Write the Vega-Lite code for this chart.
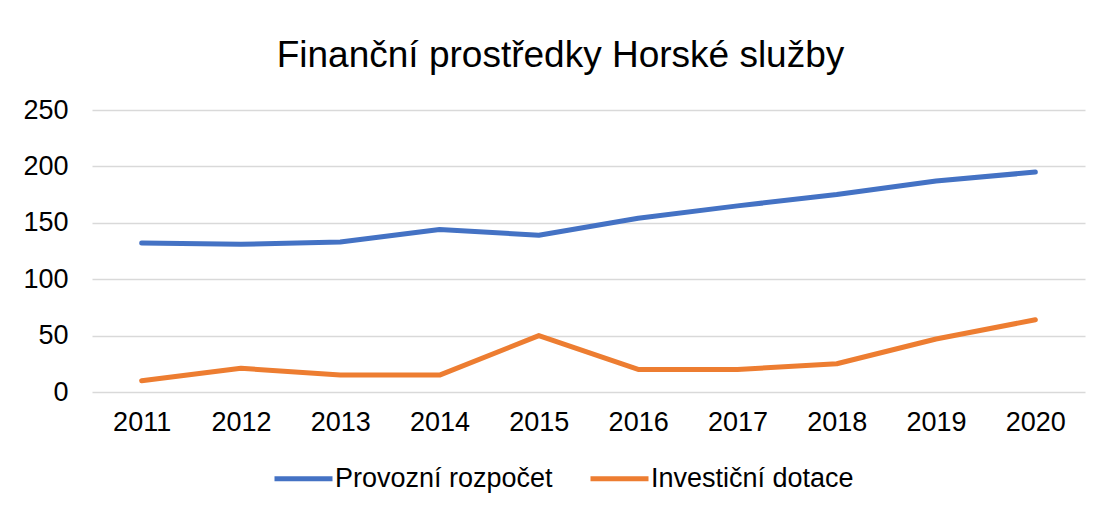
{
  "$schema": "https://vega.github.io/schema/vega-lite/v6.json",
  "width": 993,
  "height": 282,
  "autosize": {"type": "none"},
  "padding": {"left": 92, "top": 110, "right": 13, "bottom": 117},
  "background": "white",
  "title": {
    "text": "Finanční prostředky Horské služby",
    "fontSize": 37,
    "font": "Liberation Sans",
    "fontWeight": "normal",
    "color": "#000000",
    "frame": "group",
    "anchor": "middle",
    "dx": -28,
    "offset": 21
  },
  "data": {
    "values": [
      {"rok": "2011", "rada": "Provozní rozpočet", "hodnota": 132},
      {"rok": "2012", "rada": "Provozní rozpočet", "hodnota": 131},
      {"rok": "2013", "rada": "Provozní rozpočet", "hodnota": 133},
      {"rok": "2014", "rada": "Provozní rozpočet", "hodnota": 144},
      {"rok": "2015", "rada": "Provozní rozpočet", "hodnota": 139},
      {"rok": "2016", "rada": "Provozní rozpočet", "hodnota": 154},
      {"rok": "2017", "rada": "Provozní rozpočet", "hodnota": 165},
      {"rok": "2018", "rada": "Provozní rozpočet", "hodnota": 175},
      {"rok": "2019", "rada": "Provozní rozpočet", "hodnota": 187},
      {"rok": "2020", "rada": "Provozní rozpočet", "hodnota": 195},
      {"rok": "2011", "rada": "Investiční dotace", "hodnota": 10},
      {"rok": "2012", "rada": "Investiční dotace", "hodnota": 21},
      {"rok": "2013", "rada": "Investiční dotace", "hodnota": 15},
      {"rok": "2014", "rada": "Investiční dotace", "hodnota": 15},
      {"rok": "2015", "rada": "Investiční dotace", "hodnota": 50},
      {"rok": "2016", "rada": "Investiční dotace", "hodnota": 20},
      {"rok": "2017", "rada": "Investiční dotace", "hodnota": 20},
      {"rok": "2018", "rada": "Investiční dotace", "hodnota": 25},
      {"rok": "2019", "rada": "Investiční dotace", "hodnota": 47},
      {"rok": "2020", "rada": "Investiční dotace", "hodnota": 64}
    ]
  },
  "mark": {"type": "line", "strokeWidth": 5, "strokeCap": "round", "strokeJoin": "round"},
  "encoding": {
    "x": {
      "field": "rok",
      "type": "ordinal",
      "scale": {"type": "point", "padding": 0.5},
      "axis": {
        "title": null,
        "labelAngle": 0,
        "domain": false,
        "ticks": false,
        "grid": false,
        "labelFontSize": 27,
        "labelFont": "Liberation Sans",
        "labelColor": "#000000",
        "labelPadding": 17
      }
    },
    "y": {
      "field": "hodnota",
      "type": "quantitative",
      "scale": {"domain": [0, 250], "nice": false},
      "axis": {
        "title": null,
        "values": [0, 50, 100, 150, 200, 250],
        "domain": false,
        "ticks": false,
        "gridColor": "#D9D9D9",
        "gridWidth": 1.5,
        "labelFontSize": 27,
        "labelFont": "Liberation Sans",
        "labelColor": "#000000",
        "labelPadding": 24
      }
    },
    "color": {
      "field": "rada",
      "type": "nominal",
      "scale": {
        "domain": ["Provozní rozpočet", "Investiční dotace"],
        "range": ["#4472C4", "#ED7D31"]
      },
      "legend": {
        "title": null,
        "orient": "none",
        "legendX": 180,
        "legendY": 337,
        "direction": "horizontal",
        "symbolType": "stroke",
        "symbolSize": 3364,
        "symbolStrokeWidth": 5,
        "labelFontSize": 27,
        "labelFont": "Liberation Sans",
        "labelColor": "#000000",
        "labelLimit": 0,
        "labelOffset": 0,
        "columnPadding": 27
      }
    }
  },
  "config": {
    "view": {"stroke": null}
  }
}
